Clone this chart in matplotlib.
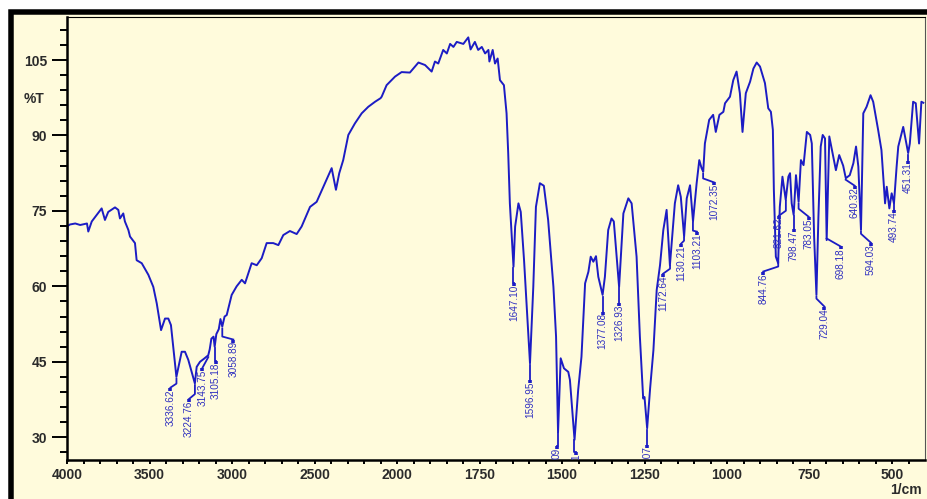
import numpy as np
import matplotlib
matplotlib.use('Agg')
import matplotlib.pyplot as plt
from matplotlib.patches import Rectangle
from matplotlib.transforms import IdentityTransform

# spectrum (wavenumber 1/cm, %T)
wavenumber = [4000, 3996, 3982, 3950, 3920, 3879, 3871, 3850, 3820, 3790, 3770, 3750, 3709, 3689,
              3679, 3659, 3649, 3628, 3618, 3588, 3578, 3547, 3507, 3477, 3456, 3430, 3406, 3386,
              3370, 3337, 3305, 3285, 3265, 3225, 3214, 3194, 3170, 3144, 3135, 3125, 3112, 3105,
              3095, 3080, 3070, 3059, 3045, 3032, 3002, 2972, 2941, 2921, 2881, 2850, 2820, 2790,
              2750, 2719, 2689, 2649, 2608, 2578, 2527, 2487, 2396, 2370, 2350, 2326, 2295, 2255,
              2214, 2174, 2133, 2100, 2093, 2063, 2012, 1986, 1961, 1935, 1915, 1895, 1885, 1875,
              1860, 1849, 1839, 1829, 1819, 1799, 1784, 1777, 1764, 1754, 1743, 1733, 1723, 1720,
              1710, 1703, 1695, 1688, 1676, 1668, 1663, 1658, 1647, 1642, 1632, 1625, 1615, 1597,
              1587, 1579, 1567, 1555, 1542, 1526, 1518, 1512, 1504, 1494, 1481, 1476, 1462, 1451,
              1441, 1430, 1420, 1413, 1405, 1397, 1390, 1377, 1370, 1360, 1350, 1343, 1327, 1314,
              1299, 1289, 1274, 1264, 1254, 1250, 1242, 1233, 1223, 1213, 1203, 1193, 1183, 1173,
              1158, 1148, 1140, 1130, 1122, 1112, 1103, 1092, 1084, 1077, 1072, 1067, 1054, 1042,
              1034, 1023, 1011, 1006, 991, 981, 971, 961, 953, 943, 930, 920, 910, 900, 885, 875,
              867, 861, 858, 852, 845, 840, 832, 822, 814, 809, 804, 798, 791, 783, 776, 768, 758,
              748, 743, 736, 729, 723, 716, 710, 703, 698, 690, 678, 670, 660, 648, 640, 628, 617,
              609, 602, 594, 587, 577, 565, 557, 542, 532, 521, 516, 508, 501, 494, 486, 481, 466,
              451, 446, 436, 428, 418, 411, 405]
transmittance = [65.0, 72.0, 72.3, 72.5, 72.2, 72.5, 70.9, 72.9, 74.2, 75.5, 73.2, 74.8, 75.7, 75.2,
                 73.5, 74.5, 72.9, 71.2, 69.9, 68.6, 65.2, 64.6, 62.3, 59.9, 56.6, 51.3, 53.6, 53.6,
                 52.3, 42.0, 47.0, 47.0, 45.4, 40.7, 44.0, 45.0, 45.6, 46.3, 47.5, 49.6, 50.0, 48.0,
                 50.5, 51.5, 53.5, 52.0, 54.0, 54.3, 58.3, 60.0, 61.3, 60.6, 64.6, 64.2, 65.6, 68.6,
                 68.6, 68.2, 70.2, 71.0, 70.4, 71.9, 75.8, 76.8, 83.5, 79.2, 82.5, 85.1, 90.1, 92.4,
                 94.4, 95.7, 96.7, 97.4, 97.7, 100.0, 101.7, 102.6, 102.5, 104.5, 104.0, 102.7, 104.7, 104.3,
                 107.0, 106.3, 108.2, 107.6, 108.6, 108.2, 109.5, 107.1, 108.6, 107.0, 107.6, 106.3, 107.0, 104.7,
                 107.0, 104.3, 105.3, 101.0, 100.0, 94.4, 86.5, 76.5, 63.9, 71.9, 76.5, 74.8, 65.2, 44.7,
                 59.9, 75.8, 80.5, 80.0, 73.2, 59.9, 50.0, 31.0, 45.7, 43.7, 43.0, 41.4, 29.5, 39.4,
                 46.0, 60.6, 62.9, 65.9, 64.9, 66.0, 61.9, 58.3, 61.9, 71.2, 73.5, 72.9, 59.9, 74.5,
                 77.5, 76.5, 65.9, 50.0, 37.7, 38.0, 31.8, 39.7, 47.3, 59.3, 64.2, 71.2, 75.2, 64.2,
                 76.5, 80.1, 77.8, 69.9, 77.5, 80.1, 72.9, 80.5, 85.1, 83.5, 82.8, 88.4, 93.1, 94.1,
                 90.7, 94.1, 94.7, 96.4, 97.7, 101.0, 102.7, 98.4, 90.7, 98.4, 100.7, 103.3, 104.5, 103.7, 100.4, 95.4,
                 94.7, 91.1, 79.2, 65.9, 64.6, 75.8, 81.8, 77.2, 81.8, 82.5, 76.5, 74.2, 82.1, 76.8, 85.1, 84.1, 90.7,
                 90.1, 88.4, 69.9, 58.3, 73.8, 87.8, 90.1, 89.4, 69.2, 89.8, 85.8, 83.1, 86.1, 84.0, 81.5, 82.1, 84.5,
                 87.8, 83.8, 71.2, 94.4, 95.7, 98.0, 96.7, 91.1, 87.1, 76.5, 79.8, 75.5, 78.5, 76.5, 83.8, 87.8, 91.7,
                 86.5, 88.4, 96.7, 96.4, 88.4, 96.7, 96.5]

# picked peaks
peak_wn = [3336.62, 3224.76, 3143.75, 3105.18, 3058.89, 1647.10, 1596.95, 1512.09, 1462.31,
           1377.08, 1326.93, 1242.07, 1172.64, 1130.21, 1103.21, 1072.35, 844.76, 821.62,
           798.47, 783.05, 729.04, 698.18, 640.32, 594.03, 493.74, 451.31]
peak_text = ['%.2f' % w for w in peak_wn]

# leader shape per peak in pixels: vertical drop, text dx, text dy, chars left above the axis
leader = [(5, -6, 11, 7), (9, -6, 16, 7), (0, -6, 13, 7), (13, 1, 15, 7), (8, 11, 13, 7),
          (15, 1, 17, 7), (15, 0, 17, 7), (13, -1, 15, 2), (12, 2, 14, 1), (15, 0, 17, 7),
          (15, 0, 17, 7), (15, 0, 17, 3), (3, -7, 10, 7), (3, -3, 8, 7), (8, 4, 11, 7),
          (5, 11, 11, 7), (4, -15, 11, 6), (10, -7, 17, 6), (13, 0, 15, 6), (5, 10, 15, 6),
          (2, 8, 12, 6), (0, 14, 10, 6), (0, 9, 8, 6), (2, 10, 13, 6), (6, 0, 8, 6), (6, 0, 8, 6)]

bg = '#fffbdc'
line_col = '#1c1cc4'
lab_col = '#3030c0'
txt_col = '#2b2b2b'


def fwd(x):
    x = np.asarray(x, dtype=float)
    return np.where(x < 2000, x, 2000 + (x - 2000) / 2)


def inv(y):
    y = np.asarray(y, dtype=float)
    return np.where(y < 2000, y, 2000 + (y - 2000) * 2)


W, H = 927, 499
fig = plt.figure(figsize=(W / 100, H / 100), dpi=100, facecolor='white')

# black frame round the chart
frame = Rectangle((10.75, -20), 960, H - 11.75 + 20, transform=IdentityTransform(),
                  facecolor=bg, edgecolor='black', linewidth=3.96, zorder=-1)
fig.patches.append(frame)

ax = fig.add_axes([67 / W, (H - 460) / H, 858 / W, 443 / H])
ax.set_facecolor(bg)
ax.set_xscale('function', functions=(fwd, inv))
ax.set_xlim(4000, 400)
ax.set_ylim(25.48, 113.55)

ax.plot(wavenumber, transmittance, color=line_col, lw=1.4)

xmaj = [4000, 3500, 3000, 2500, 2000, 1750, 1500, 1250, 1000, 750, 500]
xmin = [v for v in list(range(3900, 2000, -100)) + list(range(1950, 400, -50)) if v not in xmaj]
ax.set_xticks(xmaj)
ax.set_xticks(xmin, minor=True)
ax.set_xticklabels([str(v) for v in xmaj])
ax.set_yticks([30, 45, 60, 75, 90, 105])
ax.set_yticks([v for v in range(27, 112, 3) if v % 15 != 0], minor=True)

for lbl in ax.get_xticklabels() + ax.get_yticklabels():
    lbl.set_fontfamily('Liberation Sans')
    lbl.set_fontweight('bold')
    lbl.set_fontsize(10)
    lbl.set_color(txt_col)

ax.tick_params(axis='y', which='major', direction='out', length=10.8, width=1.4, pad=3.6)
ax.tick_params(axis='y', which='minor', direction='out', length=5, width=1.4)
ax.tick_params(axis='x', which='both', direction='out', length=3, width=1.4, pad=3)
ax.spines['left'].set_linewidth(1.8)
ax.spines['bottom'].set_linewidth(1.8)
ax.spines['top'].set_linewidth(0.8)
ax.spines['right'].set_linewidth(0.8)
ax.spines['right'].set_color('#555555')

fig.text(34 / W, 1 - 99 / H, '%T', ha='center', va='center', fontsize=10,
         fontweight='bold', family='Liberation Sans', color=txt_col)
fig.text(906 / W, 1 - 490 / H, '1/cm', ha='center', va='center', fontsize=10,
         fontweight='bold', family='Liberation Sans', color=txt_col)

# peak labels with leaders, drawn in pixel space
wn_up = np.array(wavenumber[::-1], dtype=float)
t_up = np.array(transmittance[::-1], dtype=float)
for w, txt, (v, dx, dy, n) in zip(peak_wn, peak_text, leader):
    t = np.interp(w, wn_up, t_up)
    px, py = ax.transData.transform((w, t))
    xs = [px, px, px + dx]
    ys = [py - 2, py - 2 - v, py - dy]
    ax.plot(xs, ys, transform=IdentityTransform(), color=line_col, lw=1.3, clip_on=True)
    ax.plot([px + dx, px + dx], [py - dy, py - dy - 3], color=line_col, lw=2.6,
            solid_capstyle='butt', transform=IdentityTransform(), clip_on=True)
    # labels near the axis only show their last characters, the rest is cut off
    shown = txt[-n:] if n < len(txt) else txt
    ax.text(px + dx, py - dy - 1.5, shown, transform=IdentityTransform(), rotation=90,
            ha='center', va='top', fontsize=7.2, family='Liberation Sans',
            color=lab_col, clip_on=True)

fig.savefig('out.png', dpi=100, facecolor='white')
